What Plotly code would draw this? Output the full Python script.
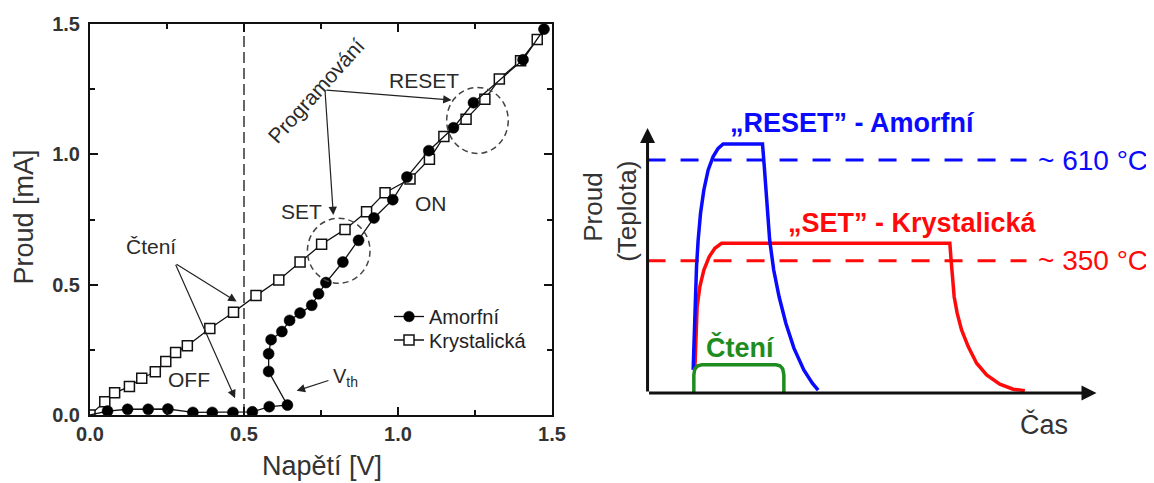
import plotly.graph_objects as go

# ---------------- Left panel: I-V characteristic ----------------
krystal_V = [0.0, 0.048, 0.080, 0.128, 0.168, 0.212, 0.246, 0.278, 0.316, 0.389, 0.466, 0.539, 0.613,
             0.682, 0.752, 0.828, 0.898, 0.958, 1.039, 1.102, 1.149, 1.221, 1.282, 1.329, 1.398, 1.452]
krystal_I = [0.0, 0.051, 0.085, 0.109, 0.141, 0.166, 0.205, 0.240, 0.266, 0.332, 0.394, 0.458, 0.518,
             0.587, 0.655, 0.712, 0.780, 0.853, 0.905, 0.981, 1.068, 1.135, 1.211, 1.289, 1.359, 1.441]

amorf_V = [0.0, 0.057, 0.122, 0.189, 0.253, 0.334, 0.397, 0.464, 0.527, 0.582, 0.641, 0.580, 0.580,
           0.588, 0.623, 0.648, 0.682, 0.720, 0.742, 0.766, 0.821, 0.872, 0.922, 0.983, 1.029, 1.100,
           1.180, 1.245, 1.406, 1.474]
amorf_I = [0.0, 0.015, 0.022, 0.022, 0.023, 0.010, 0.010, 0.010, 0.012, 0.032, 0.038, 0.167, 0.235,
           0.289, 0.320, 0.363, 0.391, 0.421, 0.465, 0.508, 0.587, 0.670, 0.756, 0.826, 0.913, 1.014,
           1.102, 1.198, 1.363, 1.480]

tick_vals = [0.0, 0.5, 1.0, 1.5]
tick_text = ["0.0", "0.5", "1.0", "1.5"]
read_voltage = 0.5

# ---------------- Right panel: pulse schematic (arbitrary units) ----------------
reset_t = [10.16, 10.38, 10.60, 10.91, 11.27, 11.80, 12.54, 13.50, 14.61, 15.72, 16.84,
           25.6, 26.0, 26.5, 27.2, 28.1, 29.3, 30.8, 32.6, 34.8, 36.7, 38.0]
reset_v = [8.7, 22.5, 35.1, 47.7, 57.7, 67.8, 76.6, 84.2, 89.2, 92.3, 94.0,
           94.0, 85.4, 72.8, 57.7, 46.4, 36.3, 26.3, 16.9, 8.7, 3.7, 1.1]

set_t = [10.53, 10.76, 11.05, 11.65, 12.54, 13.72, 14.99, 16.48,
         67.33, 67.55, 67.84, 68.29, 68.96, 69.94, 71.42, 73.29, 75.52, 78.46, 81.43, 84.03]
set_v = [8.7, 22.5, 32.6, 40.1, 46.4, 51.4, 54.6, 56.5,
         56.5, 51.4, 43.9, 36.3, 30.1, 23.8, 17.5, 11.2, 6.8, 3.3, 1.4, 0.8]

read_t = [10.31, 10.31, 10.53, 11.20, 12.1, 28.6, 29.5, 30.1, 30.36, 30.36]
read_v = [0.0, 6.8, 9.1, 10.2, 10.6, 10.6, 10.2, 9.1, 6.8, 0.0]

reset_level = 87.9   # ~610 °C
set_level = 49.9     # ~350 °C
level_t = [0.0, 84.4]
axis_len = 100.0

# page body has an 8px default margin -> figure is drawn 8px smaller and shifted
PAGE_OFF = 8
W, H = 1154 - PAGE_OFF, 483 - PAGE_OFF
FONT = "Liberation Sans, Arial, sans-serif"
BLUE = "#0a0aff"
RED = "#ff0a0a"
GREEN = "#1e8c1e"
TXT = "#2a2a2a"


def fx(px):
    return (px - PAGE_OFF) / W


def fy(py):
    return 1 - (py - PAGE_OFF) / H


fig = go.Figure()

# reading voltage dashed line
fig.add_trace(go.Scatter(x=[read_voltage, read_voltage], y=[tick_vals[0], tick_vals[-1]], mode="lines",
                         line=dict(color="#333", width=1.5, dash="11px,5px"), showlegend=False,
                         hoverinfo="skip", xaxis="x", yaxis="y"))

fig.add_trace(go.Scatter(x=krystal_V, y=krystal_I, mode="lines+markers", name="Krystalická",
                         line=dict(color="#111", width=1.3),
                         marker=dict(symbol="square", size=10, color="white",
                                     line=dict(color="#111", width=1.5)),
                         legend="legend2", xaxis="x", yaxis="y"))

amorf_sizes = [0] + [11] * (len(amorf_V) - 1)
fig.add_trace(go.Scatter(x=amorf_V, y=amorf_I, mode="lines+markers", name="Amorfní",
                         line=dict(color="#111", width=1.3),
                         marker=dict(symbol="circle", size=amorf_sizes, color="#000", opacity=1,
                                     line=dict(color="#000", width=0.5)),
                         legend="legend", xaxis="x", yaxis="y"))

# right panel
fig.add_trace(go.Scatter(x=level_t, y=[reset_level, reset_level], mode="lines",
                         line=dict(color=BLUE, width=3, dash="18px,15px"), showlegend=False,
                         xaxis="x2", yaxis="y2"))
fig.add_trace(go.Scatter(x=level_t, y=[set_level, set_level], mode="lines",
                         line=dict(color=RED, width=3, dash="18px,15px"), showlegend=False,
                         xaxis="x2", yaxis="y2"))
fig.add_trace(go.Scatter(x=set_t, y=set_v, mode="lines", line=dict(color=RED, width=3.5),
                         showlegend=False, xaxis="x2", yaxis="y2"))
fig.add_trace(go.Scatter(x=reset_t, y=reset_v, mode="lines", line=dict(color=BLUE, width=3.5),
                         showlegend=False, xaxis="x2", yaxis="y2"))
fig.add_trace(go.Scatter(x=read_t, y=read_v, mode="lines", line=dict(color=GREEN, width=3.5),
                         showlegend=False, xaxis="x2", yaxis="y2"))

axis_common = dict(range=[0, 1.5], showline=True, linewidth=2, linecolor="#111", mirror="allticks",
                   ticks="inside", ticklen=8, tickwidth=1.5, tickcolor="#111",
                   tickvals=tick_vals, ticktext=tick_text, showgrid=False, zeroline=False,
                   automargin=False,
                   tickfont=dict(family=FONT, size=20, color="#333", weight="bold"),
                   minor=dict(ticks="inside", ticklen=5, tickwidth=1.5, tickcolor="#111",
                              dtick=0.25, showgrid=False))

ann = []


def txt(x, y, s, size=21, color=TXT, ref="", angle=0, bold=False, xanchor="center"):
    ann.append(dict(x=x, y=y, xref="x" + ref, yref="y" + ref, text=s, showarrow=False,
                    textangle=angle, xanchor=xanchor, yanchor="middle",
                    font=dict(family=FONT, size=size, color=color,
                              weight="bold" if bold else "normal")))


def arrow(x0, y0, x1, y1, ref="", width=1.2, head=2, size=1.4, color="#222"):
    ann.append(dict(x=x1, y=y1, ax=x0, ay=y0, xref="x" + ref, yref="y" + ref,
                    axref="x" + ref, ayref="y" + ref, text="", showarrow=True,
                    arrowhead=head, arrowsize=size, arrowwidth=width, arrowcolor=color,
                    standoff=0, startstandoff=0))


# left annotations
txt(0.735, 1.245, "Programování", size=21, angle=-48)
txt(1.084, 1.285, "RESET", size=21)
txt(0.688, 0.782, "SET", size=21)
txt(1.107, 0.813, "ON", size=21)
txt(0.198, 0.646, "Čtení", size=21)
txt(0.320, 0.138, "OFF", size=21)
txt(0.782, 0.142, "V<sub>th</sub>", size=20, xanchor="left")

arrow(0.763, 1.247, 1.174, 1.208)
arrow(0.763, 1.247, 0.790, 0.767)
arrow(0.276, 0.582, 0.476, 0.435)
arrow(0.276, 0.582, 0.471, 0.064)
arrow(0.779, 0.134, 0.671, 0.093)

# right axes arrows
arrow(0, 0, axis_len, 0, ref="2", width=3, head=2, size=1.0, color="#111")
arrow(0, 0, 0, axis_len, ref="2", width=3, head=2, size=1.0, color="#111")

txt(45.6, 101.9, "„RESET” - Amorfní", size=27, color=BLUE, ref="2", bold=True)
txt(59.1, 64.2, "„SET” - Krystalická", size=27, color=RED, ref="2", bold=True)
txt(99.2, reset_level, "~ 610 °C", size=28, color=BLUE, ref="2")
txt(99.2, set_level, "~ 350 °C", size=28, color=RED, ref="2")
txt(20.8, 17.0, "Čtení", size=27, color=GREEN, ref="2", bold=True)
txt(88.3, -12.0, "Čas", size=27, color="#333", ref="2")
txt(-12.2, 70.2, "Proud", size=26, color="#333", ref="2", angle=-90)
txt(-4.6, 68.7, "(Teplota)", size=26, color="#333", ref="2", angle=-90)

# axis titles of left panel
ann.append(dict(x=fx(23.5), y=fy(217), xref="paper", yref="paper", text="Proud [mA]",
                showarrow=False, textangle=-90, xanchor="center", yanchor="middle",
                font=dict(family=FONT, size=27, color="#333")))
ann.append(dict(x=fx(322), y=fy(466), xref="paper", yref="paper", text="Napětí [V]",
                showarrow=False, xanchor="center", yanchor="middle",
                font=dict(family=FONT, size=27, color="#333")))

shapes = [
    dict(type="circle", xref="x", yref="y", x0=0.7059, x1=0.9091, y0=0.5053, y1=0.7547,
         line=dict(color="#444", width=1.5, dash="6px,4px")),
    dict(type="circle", xref="x", yref="y", x0=1.158, x1=1.358, y0=1.0034, y1=1.2566,
         line=dict(color="#444", width=1.5, dash="6px,4px")),
]

legend_style = dict(xanchor="left", yanchor="top", font=dict(family=FONT, size=20, color="#222"),
                    bgcolor="rgba(0,0,0,0)", itemwidth=30, borderwidth=0)

fig.update_layout(
    width=W, height=H, margin=dict(l=0, r=0, t=0, b=0, pad=0, autoexpand=False),
    paper_bgcolor="white", plot_bgcolor="rgba(0,0,0,0)",
    xaxis=dict(domain=[fx(90), fx(552)], anchor="y", **axis_common),
    yaxis=dict(domain=[fy(415), fy(24)], anchor="x", ticklabelstandoff=4, **axis_common),
    xaxis2=dict(domain=[fx(560), 1.0], range=[-19.5, 112.8], visible=False, anchor="y2"),
    yaxis2=dict(domain=[0.0, 1.0], range=[-34.0, 145.3], visible=False, anchor="x2"),
    annotations=ann, shapes=shapes,
    showlegend=True,
    legend=dict(x=fx(389), y=fy(297), **legend_style),
    legend2=dict(x=fx(389), y=fy(320.5), **legend_style),
    font=dict(family=FONT),
)

fig.write_html("out.html")
